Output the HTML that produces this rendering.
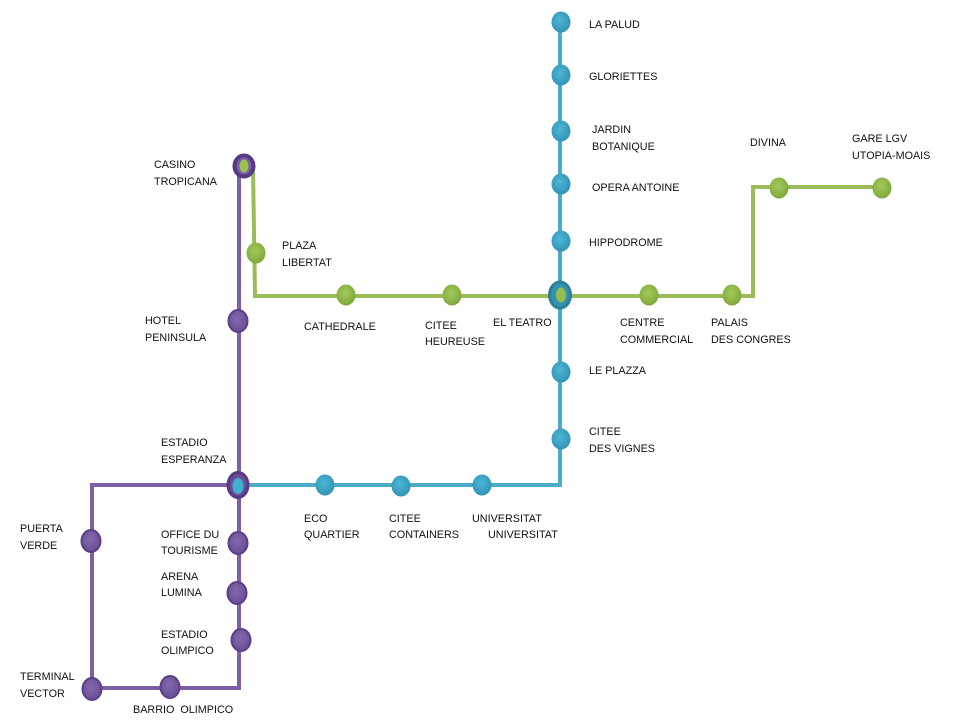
<!DOCTYPE html>
<html><head><meta charset="utf-8"><style>
html,body{margin:0;padding:0;background:#fff;}
svg{display:block;}
text{font-family:"Liberation Sans",sans-serif;font-size:10.8px;fill:#111;}
</style></head><body>
<svg width="960" height="720" viewBox="0 0 960 720" xmlns="http://www.w3.org/2000/svg">
<defs>
<radialGradient id="gb" cx="45%" cy="40%" r="60%"><stop offset="0" stop-color="#4fb6d6"/><stop offset="1" stop-color="#2f93b5"/></radialGradient>
<radialGradient id="gg" cx="45%" cy="40%" r="60%"><stop offset="0" stop-color="#a2c95c"/><stop offset="1" stop-color="#7fa83c"/></radialGradient>
<radialGradient id="gp" cx="45%" cy="40%" r="60%"><stop offset="0" stop-color="#8468ac"/><stop offset="1" stop-color="#6a4e96"/></radialGradient>
</defs>
<g fill="none" stroke-width="4" stroke-linejoin="miter">
<!-- purple -->
<polyline points="239,167 239,688 92,688 92,485 237,485" stroke="#7d5fa6"/>
<!-- blue -->
<polyline points="560,20 560,485 237,485" stroke="#4bacc6"/>
<!-- green -->
<polyline points="253,167 255,296 753,296 753,187 882,187" stroke="#9bbb59"/>
</g>
<!-- blue nodes -->
<g fill="url(#gb)">
<ellipse cx="561" cy="22" rx="9.5" ry="10.5"/>
<ellipse cx="561" cy="75" rx="9.5" ry="10.5"/>
<ellipse cx="561" cy="131" rx="9.5" ry="10.5"/>
<ellipse cx="561" cy="184" rx="9.5" ry="10.5"/>
<ellipse cx="561" cy="241" rx="9.5" ry="10.5"/>
<ellipse cx="561" cy="372" rx="9.5" ry="10.5"/>
<ellipse cx="561" cy="439" rx="9.5" ry="10.5"/>
<ellipse cx="482" cy="485" rx="9.5" ry="10.5"/>
<ellipse cx="401" cy="486" rx="9.5" ry="10.5"/>
<ellipse cx="325" cy="485" rx="9.5" ry="10.5"/>
</g>
<!-- green nodes -->
<g fill="url(#gg)">
<ellipse cx="256" cy="253" rx="9.5" ry="10.5"/>
<ellipse cx="346" cy="295" rx="9.5" ry="10.5"/>
<ellipse cx="452" cy="295" rx="9.5" ry="10.5"/>
<ellipse cx="649" cy="295" rx="9.5" ry="10.5"/>
<ellipse cx="732" cy="295" rx="9.5" ry="10.5"/>
<ellipse cx="779" cy="188" rx="9.5" ry="10.5"/>
<ellipse cx="882" cy="188" rx="9.5" ry="10.5"/>
</g>
<!-- purple nodes -->
<g fill="url(#gp)" stroke="#5a3f86" stroke-width="2">
<ellipse cx="238" cy="321" rx="9.5" ry="11"/>
<ellipse cx="238" cy="543" rx="9.5" ry="11"/>
<ellipse cx="237" cy="593" rx="9.5" ry="11"/>
<ellipse cx="241" cy="640" rx="9.5" ry="11"/>
<ellipse cx="91" cy="541" rx="9.5" ry="11"/>
<ellipse cx="92" cy="689" rx="9.5" ry="11"/>
<ellipse cx="170" cy="687" rx="9.5" ry="11"/>
</g>
<!-- interchanges -->
<ellipse cx="244" cy="166" rx="9.5" ry="10.5" fill="#7d5fa6" stroke="#563a84" stroke-width="4"/>
<ellipse cx="244" cy="166" rx="4.5" ry="6.5" fill="#9bc24f"/>
<ellipse cx="238" cy="485" rx="10" ry="12.5" fill="#6a4e96" stroke="#563a84" stroke-width="3"/>
<ellipse cx="238" cy="486" rx="5.5" ry="8" fill="#3fb2cf"/>
<ellipse cx="560" cy="295" rx="10.5" ry="13" fill="#3494b0" stroke="#2b7f98" stroke-width="3"/>
<ellipse cx="561" cy="295" rx="5" ry="7.5" fill="#95bd50"/>
<!-- labels -->
<text x="589" y="28">LA PALUD</text>
<text x="589" y="80">GLORIETTES</text>
<text x="592" y="133">JARDIN</text>
<text x="592" y="150">BOTANIQUE</text>
<text x="592" y="191">OPERA ANTOINE</text>
<text x="589" y="246">HIPPODROME</text>
<text x="493" y="326">EL TEATRO</text>
<text x="589" y="374">LE PLAZZA</text>
<text x="589" y="435">CITEE</text>
<text x="589" y="452">DES VIGNES</text>
<text x="620" y="326">CENTRE</text>
<text x="620" y="343">COMMERCIAL</text>
<text x="711" y="326">PALAIS</text>
<text x="711" y="343">DES CONGRES</text>
<text x="750" y="146">DIVINA</text>
<text x="852" y="142">GARE LGV</text>
<text x="852" y="159">UTOPIA-MOAIS</text>
<text x="154" y="168">CASINO</text>
<text x="154" y="185">TROPICANA</text>
<text x="282" y="249">PLAZA</text>
<text x="282" y="266">LIBERTAT</text>
<text x="145" y="324">HOTEL</text>
<text x="145" y="341">PENINSULA</text>
<text x="304" y="330">CATHEDRALE</text>
<text x="425" y="329">CITEE</text>
<text x="425" y="345">HEUREUSE</text>
<text x="161" y="446">ESTADIO</text>
<text x="161" y="463">ESPERANZA</text>
<text x="20" y="532">PUERTA</text>
<text x="20" y="549">VERDE</text>
<text x="161" y="538">OFFICE DU</text>
<text x="161" y="554">TOURISME</text>
<text x="161" y="580">ARENA</text>
<text x="161" y="596">LUMINA</text>
<text x="161" y="638">ESTADIO</text>
<text x="161" y="654">OLIMPICO</text>
<text x="20" y="680">TERMINAL</text>
<text x="20" y="697">VECTOR</text>
<text x="133" y="713" xml:space="preserve">BARRIO  OLIMPICO</text>
<text x="304" y="522">ECO</text>
<text x="304" y="538">QUARTIER</text>
<text x="389" y="522">CITEE</text>
<text x="389" y="538">CONTAINERS</text>
<text x="472" y="522">UNIVERSITAT</text>
<text x="488" y="538">UNIVERSITAT</text>
</svg>
</body></html>
